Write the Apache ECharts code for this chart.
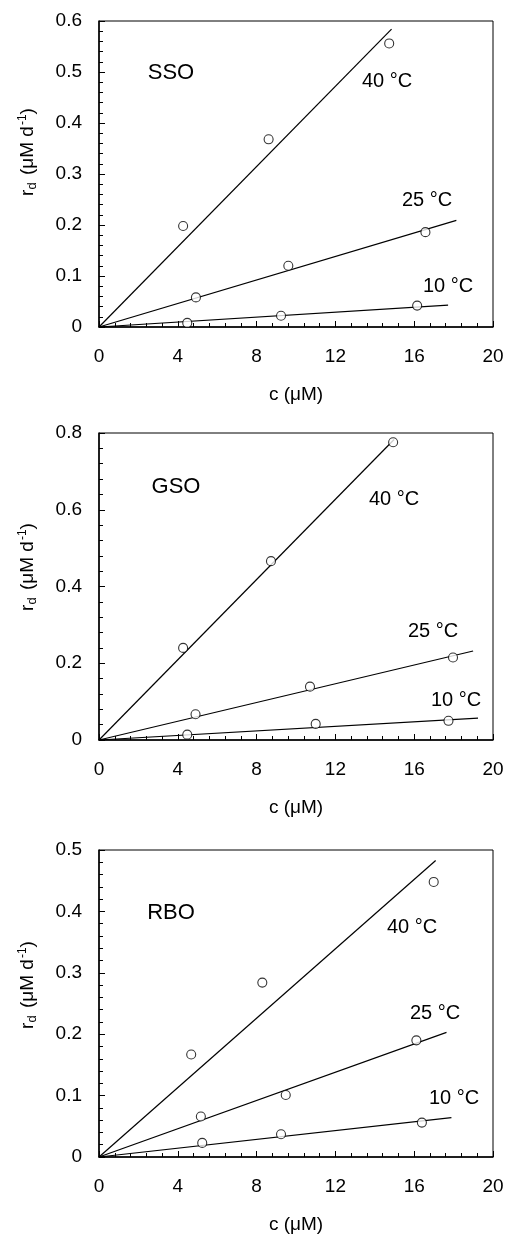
<!DOCTYPE html>
<html><head><meta charset="utf-8">
<script src="https://cdn.jsdelivr.net/npm/echarts@6/dist/echarts.min.js"></script>
<style>html,body{margin:0;padding:0;background:#fff}#c{width:507px;height:1235px}</style>
</head><body><div id="c"></div>
<script>
// ---- data ----
const panelNames = ['SSO', 'GSO', 'RBO'];
const tempLabels = ['40 °C', '25 °C', '10 °C'];
const xTicks = [0, 4, 8, 12, 16, 20];
const yMaxes = [0.6, 0.8, 0.5];
const yIntervals = [0.1, 0.2, 0.1];

const ssoC40 = [4.27, 8.61, 14.73];  const ssoR40 = [0.198, 0.368, 0.556];
const ssoC25 = [4.92, 9.61, 16.57];  const ssoR25 = [0.058, 0.120, 0.186];
const ssoC10 = [4.48, 9.24, 16.15];  const ssoR10 = [0.008, 0.022, 0.042];
const ssoFitC = [14.85, 18.14, 17.72]; const ssoFitR = [0.584, 0.209, 0.043];

const gsoC40 = [4.27, 8.73, 14.93];  const gsoR40 = [0.240, 0.466, 0.776];
const gsoC25 = [4.90, 10.71, 17.97]; const gsoR25 = [0.067, 0.139, 0.215];
const gsoC10 = [4.48, 11.00, 17.74]; const gsoR10 = [0.014, 0.042, 0.050];
const gsoFitC = [14.98, 18.99, 19.24]; const gsoFitR = [0.783, 0.232, 0.057];

const rboC40 = [4.68, 8.29, 16.99];  const rboR40 = [0.167, 0.284, 0.448];
const rboC25 = [5.17, 9.48, 16.11];  const rboR25 = [0.066, 0.101, 0.190];
const rboC10 = [5.24, 9.24, 16.39];  const rboR10 = [0.023, 0.037, 0.056];
const rboFitC = [17.09, 17.64, 17.89]; const rboFitR = [0.483, 0.203, 0.064];

// ---- layout ----
const FONT = 'Liberation Sans, Arial, sans-serif';
const gridTops = [21, 433, 850];
const gridH = [306, 307, 307];
const nameLabelPos = [[171, 73], [176, 487], [171, 913]];
const tempLabelPos = [
  [[387, 81], [427, 200], [448, 286]],
  [[394, 499], [433, 631], [456, 700]],
  [[412, 927], [435, 1013], [454, 1098]]
];
const yNameY = [152, 567, 985];

const pts = (cs, rs) => cs.map((c, i) => [c, rs[i]]);
const panelsData = [
  {sc: [pts(ssoC40, ssoR40), pts(ssoC25, ssoR25), pts(ssoC10, ssoR10)], fc: ssoFitC, fr: ssoFitR},
  {sc: [pts(gsoC40, gsoR40), pts(gsoC25, gsoR25), pts(gsoC10, gsoR10)], fc: gsoFitC, fr: gsoFitR},
  {sc: [pts(rboC40, rboR40), pts(rboC25, rboR25), pts(rboC10, rboR10)], fc: rboFitC, fr: rboFitR}
];

const grids = [], xAxes = [], yAxes = [], series = [], graphics = [];
panelsData.forEach((p, k) => {
  grids.push({left: 99, right: 14, top: gridTops[k], height: gridH[k], show: true,
    borderColor: '#000', borderWidth: 1, backgroundColor: 'transparent'});
  xAxes.push({type: 'value', gridIndex: k, min: xTicks[0], max: xTicks[xTicks.length - 1], interval: 4,
    axisLine: {show: true, onZero: false, lineStyle: {color: '#000', width: 1.5}},
    axisTick: {show: true, inside: true, length: 6, lineStyle: {color: '#000', width: 1}},
    minorTick: {show: true, splitNumber: 5, length: 4, lineStyle: {color: '#000', width: 1}},
    splitLine: {show: false},
    axisLabel: {color: '#000', fontSize: 19, fontFamily: FONT, margin: 20},
    name: 'c (μM)', nameLocation: 'middle', nameGap: 58,
    nameTextStyle: {color: '#000', fontSize: 19, fontFamily: FONT}});
  yAxes.push({type: 'value', gridIndex: k, min: 0, max: yMaxes[k], interval: yIntervals[k],
    axisLine: {show: true, onZero: false, lineStyle: {color: '#000', width: 1.5}},
    axisTick: {show: true, inside: true, length: 6, lineStyle: {color: '#000', width: 1}},
    minorTick: {show: true, splitNumber: 5, length: 4, lineStyle: {color: '#000', width: 1}},
    splitLine: {show: false},
    axisLabel: {color: '#000', fontSize: 19, fontFamily: FONT, margin: 17}});
  p.sc.forEach((d, j) => {
    series.push({type: 'line', xAxisIndex: k, yAxisIndex: k, data: [[0, 0], [p.fc[j], p.fr[j]]],
      showSymbol: false, symbol: 'none', lineStyle: {color: '#000', width: 1.2}, silent: true, z: 2});
    series.push({type: 'scatter', xAxisIndex: k, yAxisIndex: k, data: d, symbol: 'circle', symbolSize: 9,
      itemStyle: {color: '#fff', borderColor: '#000', borderWidth: 1.1}, silent: true, z: 3});
  });
  graphics.push({type: 'text', x: nameLabelPos[k][0], y: nameLabelPos[k][1],
    style: {text: panelNames[k], fontSize: 22, fontFamily: FONT, fill: '#000', align: 'center', verticalAlign: 'middle'}});
  tempLabels.forEach((t, j) => {
    graphics.push({type: 'text', x: tempLabelPos[k][j][0], y: tempLabelPos[k][j][1],
      style: {text: t, fontSize: 20, fontFamily: FONT, fill: '#000', align: 'center', verticalAlign: 'middle'}});
  });
  graphics.push({type: 'text', x: 28, y: yNameY[k], rotation: Math.PI / 2,
    style: {text: '{a|r}{sub|d}{a| (μM d}{sup|-1}{a|)}', align: 'center', verticalAlign: 'middle',
      fill: '#000', fontFamily: FONT, fontSize: 19,
      rich: {
        a: {fontSize: 19, fontFamily: FONT, fill: '#000', verticalAlign: 'middle'},
        sub: {fontSize: 13, fontFamily: FONT, fill: '#000', verticalAlign: 'bottom', padding: [6, 2, 0, 0]},
        sup: {fontSize: 12, fontFamily: FONT, fill: '#000', verticalAlign: 'top', padding: [0, 0, 10, 1]}
      }}});
});

const chart = echarts.init(document.getElementById('c'), null, {renderer: 'canvas'});
chart.setOption({animation: false, backgroundColor: '#fff', grid: grids, xAxis: xAxes, yAxis: yAxes,
  series: series, graphic: graphics});
</script></body></html>
